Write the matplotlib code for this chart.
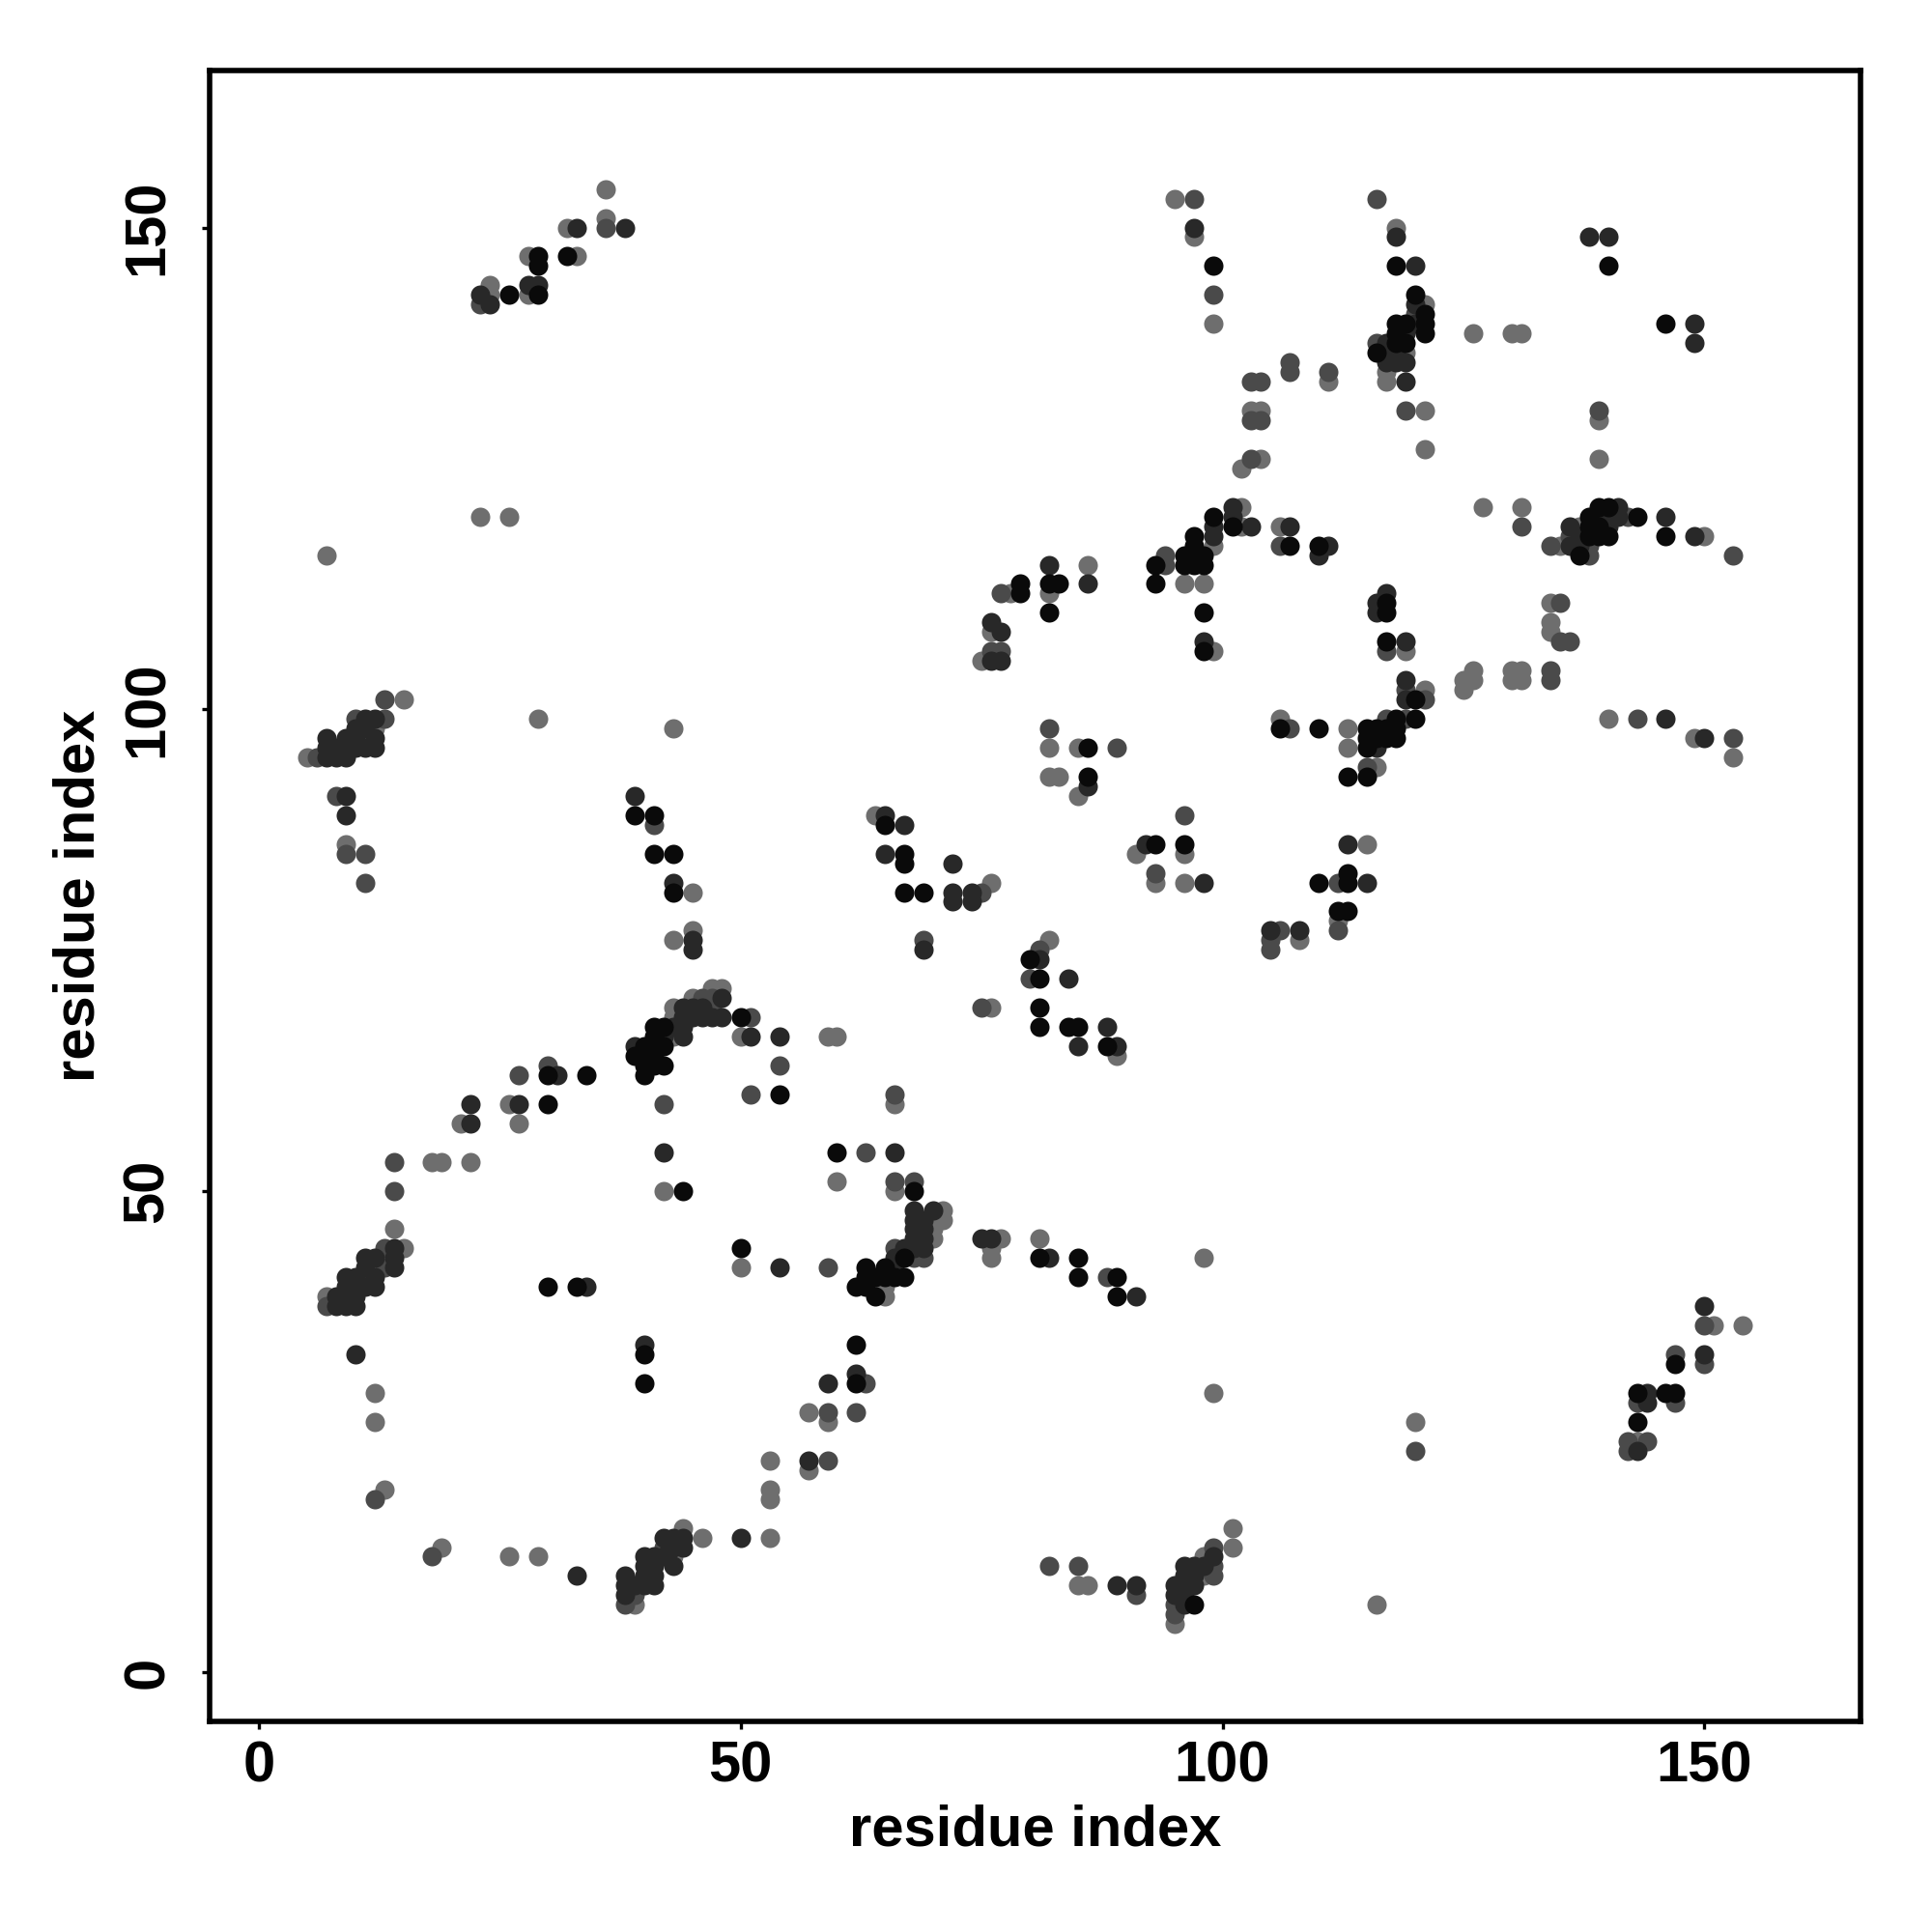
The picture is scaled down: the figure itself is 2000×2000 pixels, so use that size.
import matplotlib
matplotlib.use("Agg")
import matplotlib.pyplot as plt

plt.rcParams['font.family'] = ['Liberation Sans', 'DejaVu Sans']
plt.rcParams['font.weight'] = 'bold'

# contact pairs (i, j), grouped by shade of the dot
gray_pairs = [
    (36,154),(36,151),(32,150),(28,147),(33,147),(24,144),(24,143),(28,143),(23,120),(26,120),(7,116),
    (95,153),(97,149),(99,140),(103,131),(104,131),(102,125),(104,126),(102,121),(102,119),(99,117),
    (96,113),(98,113),(82,112),(86,115),(78,112),(106,119),
    (118,150),(121,142),(119,137),(117,135),(117,134),(111,134),(121,131),(121,127),(126,139),(130,139),
    (131,139),(139,130),(139,126),(127,121),(131,121),(135,117),(137,119),(150,118),(134,111),(134,109),
    (15,101),(12,98),(5,95),(9,86),(29,99),(43,98),(45,81),(43,76),(45,77),(47,71),(48,71),(45,70),
    (43,69),(43,68),(43,66),(50,66),(26,59),(21,57),(27,57),(18,53),(19,53),(22,53),
    (76,108),(75,105),(99,106),(106,99),(82,96),(85,96),(82,93),(83,93),(85,91),(64,89),(76,82),(82,76),
    (76,69),(89,64),(91,85),(96,85),(93,82),(96,82),(108,76),(59,66),(60,66),(66,59),(60,51),(66,50),
    (113,98),(113,96),(116,94),(125,103),(125,102),(126,104),(126,103),(130,104),(131,104),(130,103),
    (131,103),(134,108),(140,99),(149,97),(153,95),(115,86),(112,78),(121,102),(119,106),
    (42,50),(14,46),(15,44),(7,39),(11,41),(12,29),(12,26),(13,19),(19,13),(26,12),(29,12),(39,7),
    (43,12),(44,15),(46,14),(50,42),(53,22),(53,19),(53,18),(53,14),
    (71,48),(71,47),(70,46),(70,45),(77,45),(76,44),(76,43),(81,45),(98,43),(65,39),(65,40),(57,27),
    (59,26),(57,21),(99,29),(101,15),(101,13),(98,12),(98,10),(95,5),(85,9),(86,9),
    (120,26),(116,7),(151,36),(154,36),(143,24),
]

mid_pairs = [
    (36,150),(23,142),
    (97,153),(99,143),(103,134),(104,134),(103,130),(104,130),(107,136),(107,135),(103,126),(111,135),
    (94,116),(94,115),(106,117),(77,112),
    (116,153),(120,141),(116,138),(119,131),(139,131),(131,119),(134,117),(136,118),(138,117),(138,116),
    (153,116),(135,111),(142,120),
    (13,101),(10,99),(13,99),(6,95),(8,91),(9,85),(11,85),(11,82),(41,88),(47,69),(46,70),(47,70),
    (51,68),(51,60),(27,62),(30,63),(42,59),(14,53),
    (76,106),(77,106),(107,98),(82,98),(89,96),(75,81),(69,76),(81,75),(80,72),(75,69),(96,89),(93,83),
    (106,77),(105,76),(105,75),(54,63),(66,60),(63,54),(66,51),(68,51),
    (117,106),(119,102),(121,101),(117,99),(119,99),(115,94),(134,104),(134,103),(135,107),(136,107),
    (143,99),(153,97),(112,77),(112,82),
    (14,50),(13,44),(13,42),(7,38),(12,18),(18,12),(38,7),(39,8),(42,13),(66,44),(68,43),(69,43),
    (59,42),(63,30),(59,27),(62,27),(59,22),(99,13),(99,11),(99,10),(95,7),(95,6),(82,11),(85,11),
    (88,41),(91,8),
    (120,23),(150,36),(147,33),(150,32),(143,28),(147,28),(142,24),(144,24),(142,23),
]

dark_pairs = [
    (33,150),(38,150),(23,143),(24,142),(28,144),(29,144),
    (97,150),(82,115),(86,113),(101,121),(101,120),(99,119),(103,119),(99,118),(107,119),(111,117),
    (110,116),(76,109),(77,108),(98,107),
    (120,146),(120,142),(120,140),(119,139),(117,138),(117,137),(118,137),(118,136),(117,136),(119,136),
    (119,134),(118,149),(138,149),(140,149),(149,140),(149,138),(141,121),(139,120),(140,120),(141,120),
    (140,119),(137,118),(136,119),(136,117),(137,117),(146,120),(149,118),(116,111),(117,112),(116,110),
    (11,99),(12,99),(9,97),(10,97),(12,97),(7,97),(11,98),(10,98),(11,96),(10,96),(9,96),(8,96),(12,96),
    (7,96),(8,95),(7,95),(9,95),(9,91),(9,89),(39,91),(43,82),(45,76),(45,75),(44,69),(45,69),(46,69),
    (44,68),(45,68),(46,68),(47,68),(48,68),(48,70),(43,67),(44,67),(42,66),(44,66),(51,66),(39,65),
    (31,62),(22,59),(22,57),(27,59),(42,54),
    (77,105),(76,105),(65,89),(67,88),(65,85),(72,84),(72,81),(72,80),(74,81),(74,80),(69,75),(81,74),
    (84,72),(88,67),(85,65),(89,65),(92,86),(98,82),(105,77),(108,77),(86,92),(54,66),(66,54),
    (119,107),(119,103),(119,101),(146,99),(150,97),(113,86),(115,82),(116,96),
    (11,43),(12,43),(14,43),(14,44),(9,41),(10,41),(12,41),(14,42),(8,39),(9,39),(10,39),(11,40),
    (12,40),(8,38),(9,38),(10,38),(11,42),(9,40),(10,40),(10,33),(33,10),(34,40),(40,34),(38,10),
    (38,9),(38,8),(39,9),(40,12),(40,11),(40,10),(40,9),(41,11),(41,10),(41,9),(41,12),(42,14),(42,12),
    (43,14),(43,13),(43,11),(44,14),(44,13),(50,14),(54,42),
    (68,48),(70,48),(68,47),(69,47),(68,46),(69,46),(68,45),(69,45),(67,44),(68,44),(69,44),(66,43),
    (66,42),(75,45),(76,45),(82,43),(91,39),(59,30),(57,22),(62,31),(99,12),(96,11),(97,11),(98,11),
    (96,10),(97,10),(95,9),(96,9),(97,9),(95,8),(96,8),(96,7),(89,9),(91,9),
    (150,38),(150,33),(144,29),(144,28),(143,23),
]

black_pairs = [
    (29,147),(29,146),(32,147),(26,143),(29,143),
    (99,146),(97,118),(97,117),(96,116),(97,116),(98,116),(96,115),(97,115),(98,115),(93,115),(93,113),
    (98,110),(107,117),(110,117),(82,113),(82,110),(83,113),(79,113),(79,112),(99,120),(101,119),
    (118,146),(120,143),(121,141),(121,140),(121,139),(118,140),(119,140),(118,139),(118,138),(119,138),
    (116,137),(140,146),(146,140),(143,120),(138,120),(139,121),(140,121),(138,119),(139,119),(138,118),
    (139,118),(140,118),(137,116),(146,118),(117,110),(117,111),
    (39,89),(41,89),(41,85),(43,85),(43,81),(41,67),(42,67),(41,66),(40,65),(41,65),(42,65),(39,64),
    (40,64),(41,64),(40,63),(41,63),(42,63),(40,62),(30,62),(34,62),(30,59),(50,68),
    (98,106),(106,98),(110,98),(86,96),(86,93),(65,88),(67,85),(67,84),(67,81),(69,81),(80,74),(81,72),
    (81,69),(81,67),(84,67),(85,67),(88,65),(93,86),(96,86),(110,82),(54,60),(60,54),
    (117,107),(120,101),(118,99),(120,99),(115,98),(116,98),(117,98),(118,98),(115,97),(116,97),
    (117,97),(118,97),(115,96),(113,93),(115,93),(113,83),(113,82),(112,79),(113,79),
    (44,50),(30,40),(33,40),(40,33),(40,30),(50,44),
    (68,50),(63,42),(65,42),(62,40),(63,41),(64,41),(65,41),(66,41),(67,41),(64,39),(63,40),(67,43),
    (81,43),(85,43),(85,41),(89,41),(89,39),(62,34),(62,30),(97,7),
    (147,32),(143,29),(146,29),(147,29),(143,26),
]

tick_values = [0, 50, 100, 150]
axis_title = "residue index"

fig = plt.figure(figsize=(10, 10), dpi=200)
ax = fig.add_axes([0.1085, 0.109, 0.8545, 0.8545])

groups = [(gray_pairs, '#6e6e6e'), (mid_pairs, '#4a4a4a'),
          (dark_pairs, '#282828'), (black_pairs, '#0a0a0a')]
for pairs, col in groups:
    xs = [p[0] for p in pairs]
    ys = [p[1] for p in pairs]
    ax.scatter(xs, ys, s=52, c=col, linewidths=0)

ax.set_xlim(-5.1, 166.2)
ax.set_ylim(-5.1, 166.3)
ax.set_xticks(tick_values)
ax.set_yticks(tick_values)
ax.set_xticklabels([str(t) for t in tick_values], fontsize=21.5, fontweight='bold')
ax.set_yticklabels([str(t) for t in tick_values], fontsize=21.5, fontweight='bold',
                   rotation=90, va='center')
ax.tick_params(axis='both', direction='out', length=3, width=1.2)
ax.tick_params(axis='x', pad=4)
ax.tick_params(axis='y', pad=10)
for sp in ax.spines.values():
    sp.set_linewidth(2)

ax.set_xlabel(axis_title, fontsize=21.5, fontweight='bold', labelpad=4)
ax.set_ylabel(axis_title, fontsize=21.5, fontweight='bold', labelpad=6)

fig.savefig("out.png", dpi=200, facecolor='white')
